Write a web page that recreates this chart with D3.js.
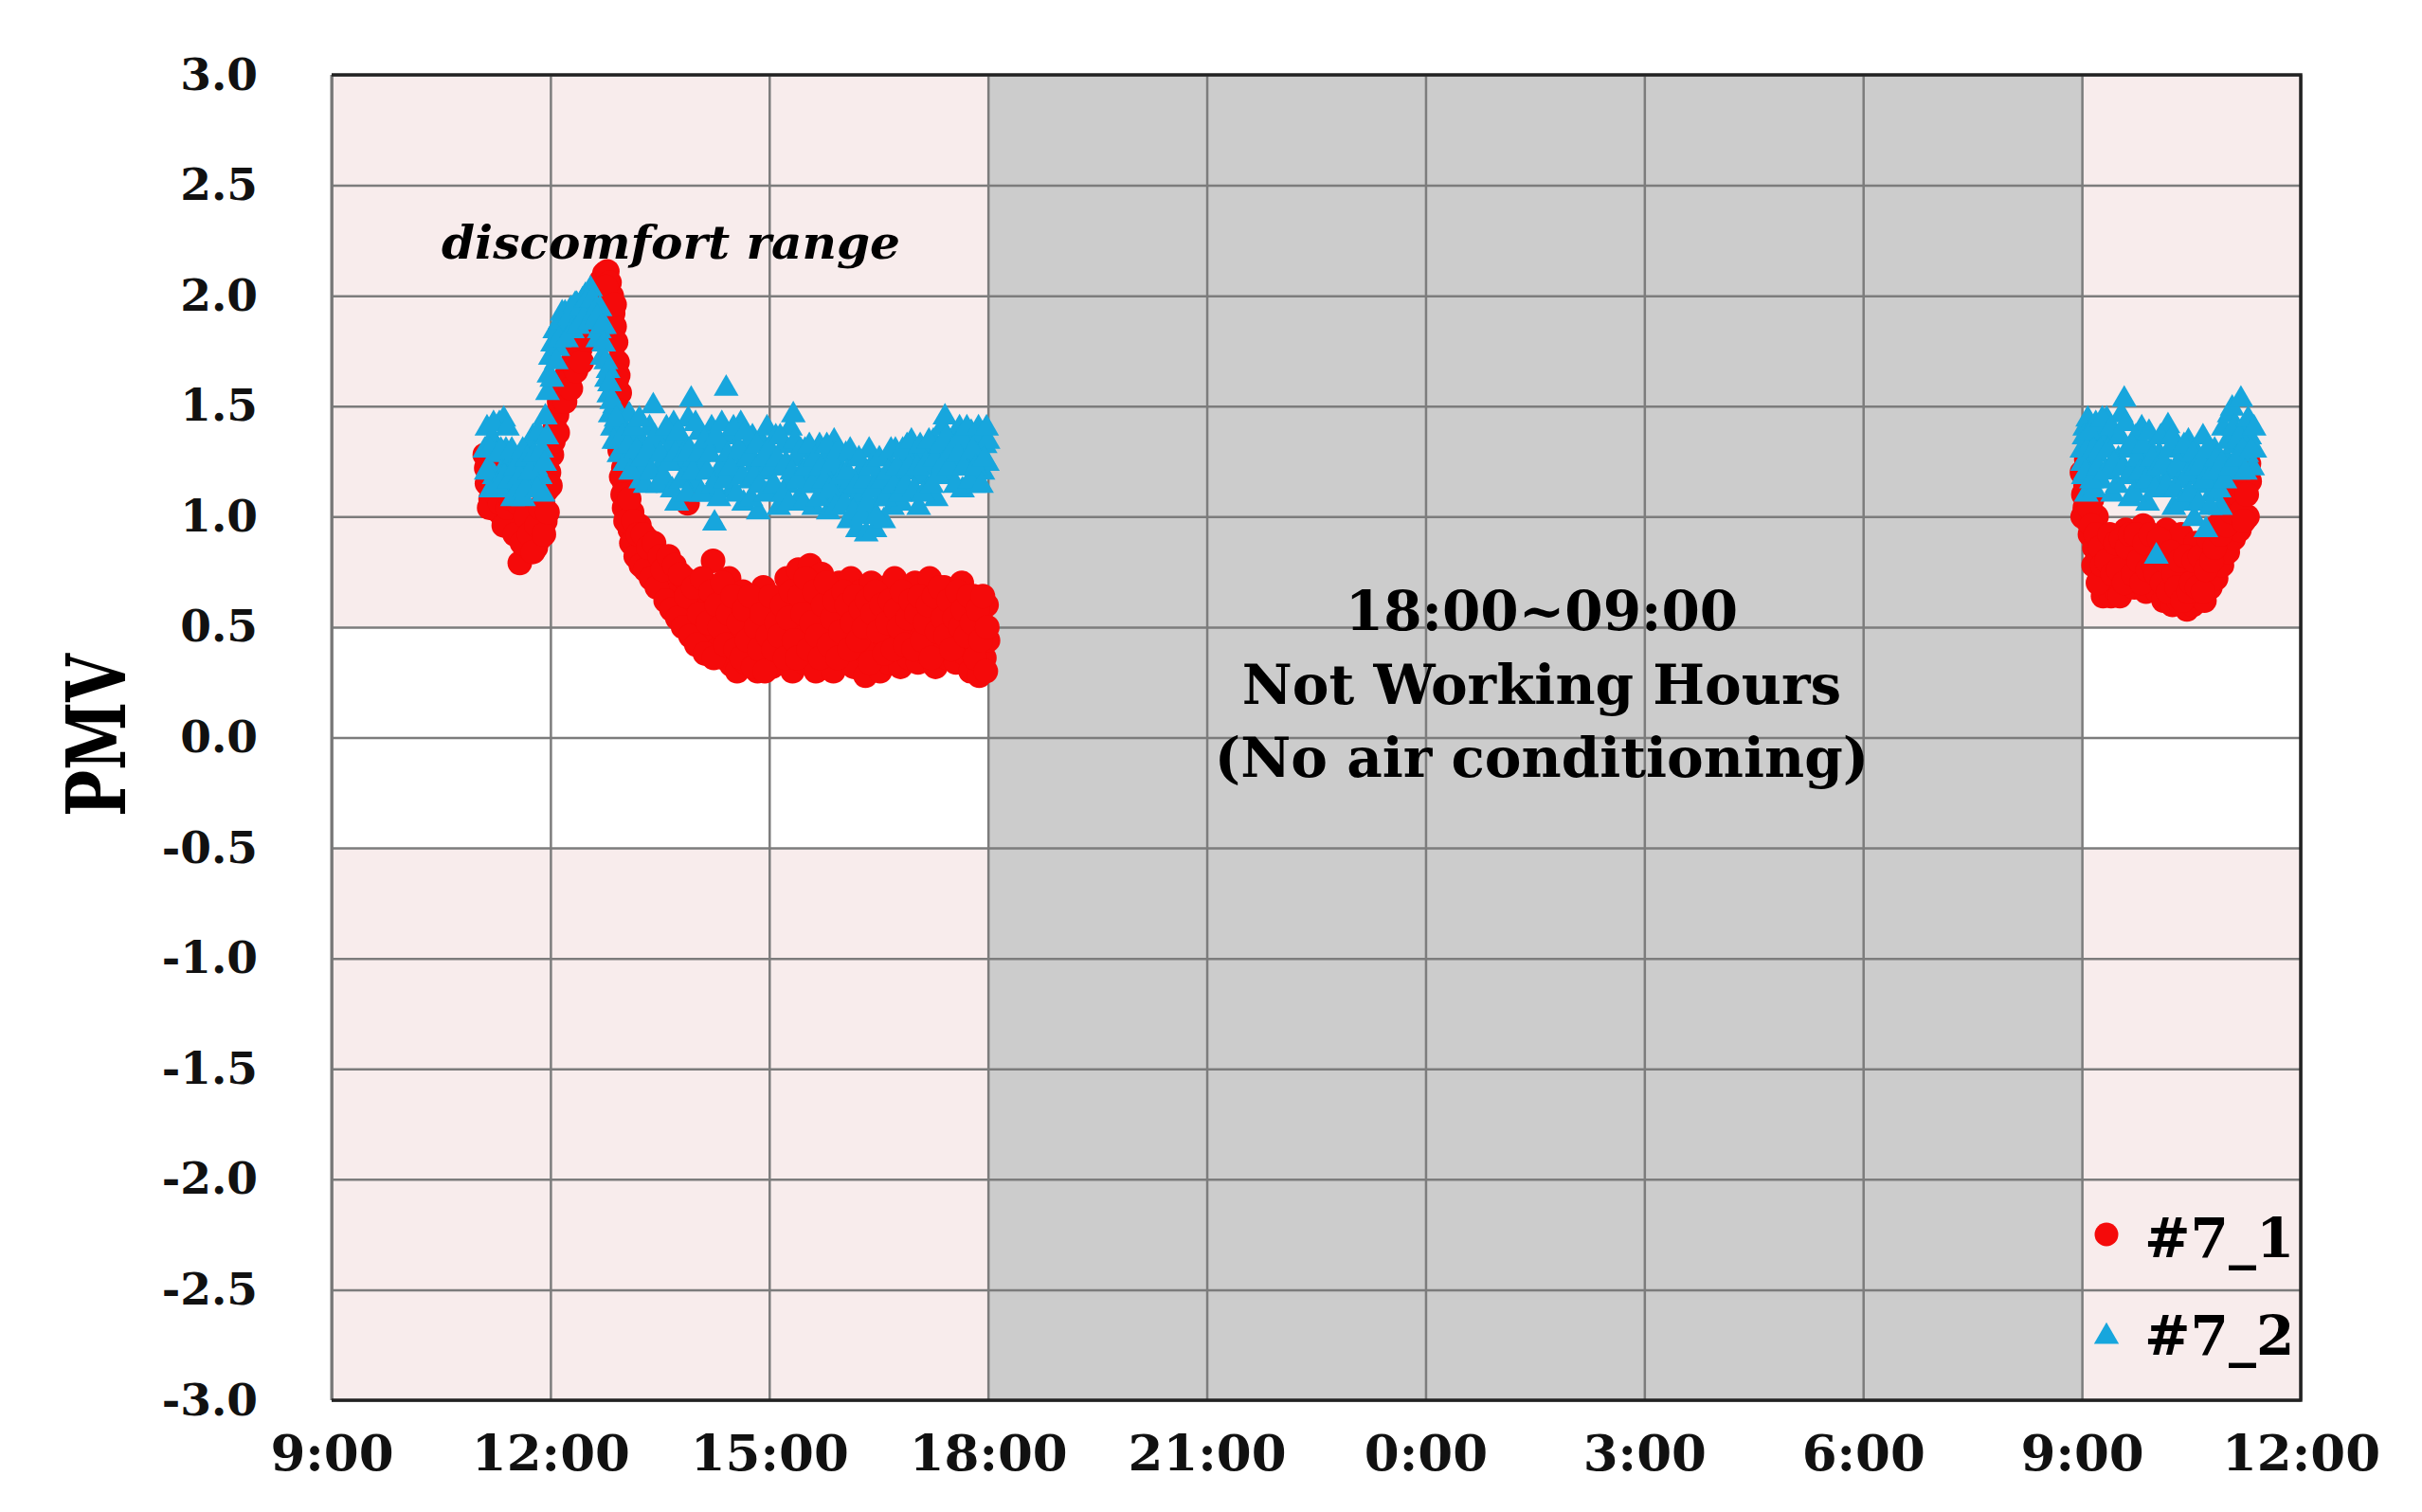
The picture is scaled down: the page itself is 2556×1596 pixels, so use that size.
<!DOCTYPE html>
<html>
<head>
<meta charset="utf-8">
<style>
body { margin: 0; background: #fff; }
.tick text { font-family: "DejaVu Serif", serif; font-weight: bold; fill: #111; }
.grid line { stroke: #7c7c7c; stroke-width: 2.5; }
.grid .domain { display: none; }
</style>
</head>
<body>
<svg width="2556" height="1596"></svg>
<script src="https://d3js.org/d3.v7.min.js"></script>
<script>

// time is hours from the start of day 1 (9 = 9:00, 24 = 0:00, 33 = 9:00 next day)
var xTicks = [9, 12, 15, 18, 21, 24, 27, 30, 33, 36];
var xLabels = ["9:00", "12:00", "15:00", "18:00", "21:00", "0:00", "3:00", "6:00", "9:00", "12:00"];
var yTicks = [3, 2.5, 2, 1.5, 1, 0.5, 0, -0.5, -1, -1.5, -2, -2.5, -3];
var yLabels = ["3.0", "2.5", "2.0", "1.5", "1.0", "0.5", "0.0", "-0.5", "-1.0", "-1.5", "-2.0", "-2.5", "-3.0"];

var seriesNames = ["#7_1", "#7_2"];
var comfortRange = [-0.5, 0.5];
var offHours = [18, 33];
var offText = ["18:00~09:00", "Not Working Hours", "(No air conditioning)"];

// #7_1 (red circles)
var pmv71 = [
  [11.10,1.28],[11.13,1.15],[11.15,1.22],[11.18,1.08],[11.20,1.30],[11.23,1.12],[11.25,1.05],[11.28,1.18],
  [11.30,1.02],[11.33,1.10],[11.35,1.00],[11.38,1.14],[11.40,0.98],[11.43,1.08],[11.45,1.02],[11.48,0.95],
  [11.50,1.10],[11.53,0.97],[11.55,1.00],[11.58,0.79],[11.60,0.94],[11.63,1.04],[11.65,0.90],[11.68,0.96],
  [11.70,0.86],[11.73,0.98],[11.75,0.88],[11.78,0.92],[11.80,0.86],[11.83,1.00],[11.85,0.90],[11.88,0.96],
  [11.90,1.06],[11.93,0.98],[11.95,1.12],[11.98,1.20],[12.00,1.14],[12.02,1.28],[12.04,1.34],[12.06,1.40],
  [12.09,1.46],[12.12,1.52],[12.15,1.56],[12.18,1.60],[12.22,1.64],[12.26,1.62],[12.30,1.70],[12.33,1.74],
  [12.37,1.78],[12.41,1.76],[12.45,1.84],[12.50,1.90],[12.55,1.95],[12.60,1.98],[12.65,2.03],[12.70,2.07],
  [12.74,2.10],[12.78,2.11],[12.81,2.06],[12.84,2.00],[12.86,1.92],[12.88,1.86],[12.90,1.79],[12.92,1.70],
  [12.93,1.64],[12.95,1.56],[12.96,1.48],[12.97,1.38],[12.98,1.30],[13.00,1.22],[13.02,1.14],[13.04,1.06],
  [13.06,1.00],[13.09,0.94],[13.12,1.02],[13.15,0.90],[13.18,0.86],[13.22,0.96],[13.25,0.84],[13.28,0.80],
  [13.32,0.90],[13.36,0.78],[13.40,0.84],[13.44,0.74],[13.48,0.80],[13.52,0.70],[13.56,0.66],[13.60,0.76],
  [13.64,0.64],[13.68,0.70],[13.72,0.60],[13.76,0.66],[13.80,0.56],[13.84,0.72],[13.88,1.06],[13.90,0.52],
  [13.94,0.62],[13.98,0.56],[14.02,0.50],[14.06,0.66],[14.10,0.46],[14.14,0.58],[14.18,0.44],[14.23,0.80],
  [14.26,0.52],[14.30,0.40],[14.34,0.62],[14.38,0.36],[14.42,0.48],[14.45,0.72],[14.48,0.33],[14.52,0.56],
  [14.56,0.30],[14.60,0.44],[14.64,0.66],[14.68,0.34],[14.72,0.52],[14.76,0.38],[14.80,0.60],[14.84,0.30],
  [14.88,0.46],[14.92,0.68],[14.96,0.36],[15.00,0.54],[15.04,0.32],[15.08,0.44],[15.12,0.62],[15.16,0.34],
  [15.20,0.50],[15.24,0.72],[15.28,0.40],[15.32,0.30],[15.36,0.58],[15.40,0.76],[15.44,0.46],[15.48,0.34],
  [15.52,0.62],[15.56,0.78],[15.60,0.42],[15.64,0.30],[15.68,0.56],[15.72,0.74],[15.76,0.38],[15.80,0.50],
  [15.84,0.66],[15.88,0.30],[15.92,0.44],[15.96,0.70],[16.00,0.58],[16.04,0.36],[16.08,0.48],[16.12,0.72],
  [16.16,0.32],[16.20,0.56],[16.24,0.66],[16.28,0.40],[16.32,0.28],[16.36,0.52],[16.40,0.70],[16.44,0.38],
  [16.48,0.60],[16.52,0.30],[16.56,0.46],[16.60,0.68],[16.64,0.34],[16.68,0.54],[16.72,0.72],[16.76,0.42],
  [16.80,0.32],[16.84,0.58],[16.88,0.66],[16.92,0.36],[16.96,0.48],[17.00,0.70],[17.04,0.34],[17.08,0.52],
  [17.12,0.64],[17.16,0.38],[17.20,0.72],[17.24,0.46],[17.28,0.32],[17.32,0.58],[17.36,0.40],[17.40,0.68],
  [17.44,0.36],[17.48,0.50],[17.52,0.62],[17.56,0.34],[17.60,0.44],[17.64,0.70],[17.68,0.38],[17.72,0.56],
  [17.76,0.30],[17.80,0.64],[17.84,0.42],[17.88,0.28],[17.92,0.52],[17.95,0.36],[17.98,0.60],[18.00,0.44],
  // in-between readings
  [11.12,1.22],[11.16,1.04],[11.21,1.16],[11.26,1.10],[11.31,1.06],[11.36,0.96],[11.41,1.04],[11.46,1.08],
  [11.51,0.92],[11.56,1.06],[11.61,0.88],[11.66,1.00],[11.71,0.92],[11.76,0.84],[11.81,0.96],[11.86,1.04],
  [11.91,0.92],[11.96,1.02],[12.10,1.38],[12.20,1.52],[12.28,1.58],[12.35,1.66],[12.43,1.70],[12.48,1.80],
  [12.53,1.86],[12.58,1.90],[12.63,1.96],[12.68,1.98],[12.76,2.04],[12.88,1.96],[12.91,1.62],[12.93,1.46],
  [12.95,1.30],[12.97,1.18],[12.99,1.10],[13.01,1.04],[13.03,0.98],[13.08,1.08],[13.11,0.88],[13.14,0.98],
  [13.17,0.82],[13.20,0.92],[13.24,0.78],[13.27,0.92],[13.30,0.76],[13.34,0.86],[13.38,0.72],[13.42,0.88],
  [13.46,0.68],[13.50,0.82],[13.54,0.76],[13.58,0.62],[13.62,0.82],[13.66,0.58],[13.70,0.78],[13.74,0.54],
  [13.78,0.74],[13.82,0.50],[13.86,0.64],[13.92,0.46],[13.96,0.68],[14.00,0.42],[14.04,0.56],[14.08,0.72],
  [14.12,0.38],[14.16,0.52],[14.20,0.66],[14.24,0.36],[14.28,0.60],[14.32,0.50],[14.36,0.70],[14.40,0.42],
  [14.44,0.56],[14.50,0.64],[14.54,0.40],[14.58,0.52],[14.62,0.36],[14.66,0.58],[14.70,0.44],[14.74,0.64],
  [14.78,0.32],[14.82,0.50],[14.86,0.40],[14.90,0.56],[14.94,0.30],[14.98,0.46],[15.02,0.64],[15.06,0.40],
  [15.10,0.52],[15.14,0.46],[15.18,0.60],[15.22,0.36],[15.26,0.54],[15.30,0.66],[15.34,0.44],[15.38,0.36],
  [15.42,0.64],[15.46,0.56],[15.50,0.72],[15.54,0.40],[15.58,0.52],[15.62,0.66],[15.66,0.46],[15.70,0.36],
  [15.74,0.60],[15.78,0.70],[15.82,0.42],[15.86,0.54],[15.90,0.62],[15.94,0.36],[15.98,0.48],[16.02,0.66],
  [16.06,0.60],[16.10,0.40],[16.14,0.52],[16.18,0.64],[16.22,0.44],[16.26,0.58],[16.30,0.50],[16.34,0.62],
  [16.38,0.34],[16.42,0.56],[16.46,0.66],[16.50,0.48],[16.54,0.60],[16.58,0.38],[16.62,0.52],[16.66,0.62],
  [16.70,0.40],[16.74,0.58],[16.78,0.50],[16.82,0.66],[16.86,0.42],[16.90,0.54],[16.94,0.62],[16.98,0.40],
  [17.02,0.56],[17.06,0.64],[17.10,0.44],[17.14,0.52],[17.18,0.60],[17.22,0.36],[17.26,0.64],[17.30,0.48],
  [17.34,0.68],[17.38,0.54],[17.42,0.46],[17.46,0.62],[17.50,0.40],[17.54,0.54],[17.58,0.66],[17.62,0.50],
  [17.66,0.58],[17.70,0.46],[17.74,0.64],[17.78,0.52],[17.82,0.36],[17.86,0.58],[17.90,0.44],[17.93,0.64],
  [17.97,0.30],[17.99,0.50],
  // next morning
  [33.00,1.20],[33.02,1.10],[33.04,1.04],[33.06,1.26],[33.08,0.98],[33.11,0.92],[33.14,1.08],[33.17,0.86],
  [33.20,1.00],[33.23,0.80],[33.26,0.74],[33.29,0.64],[33.32,0.90],[33.36,0.70],[33.40,0.64],[33.44,0.84],
  [33.48,0.66],[33.52,0.64],[33.56,0.78],[33.60,0.94],[33.64,0.72],[33.68,0.80],[33.72,0.68],[33.76,0.86],
  [33.80,0.74],[33.84,0.96],[33.88,0.66],[33.92,0.82],[33.96,0.70],[34.00,0.88],[34.04,0.66],[34.08,0.78],
  [34.12,0.62],[34.16,0.94],[34.20,0.70],[34.24,0.60],[34.28,0.84],[34.32,0.62],[34.36,0.92],[34.40,0.68],
  [34.44,0.58],[34.48,0.76],[34.52,0.60],[34.56,0.88],[34.60,0.64],[34.64,0.74],[34.68,0.62],[34.72,0.82],
  [34.76,0.68],[34.80,0.94],[34.84,0.72],[34.88,0.86],[34.92,0.78],[34.96,0.90],[35.00,0.84],[35.04,0.96],
  [35.08,0.90],[35.12,1.04],[35.16,0.94],[35.20,1.12],[35.24,1.24],[35.27,1.00],[35.30,1.16],
  [33.01,1.00],[33.05,1.14],[33.10,1.04],[33.13,0.96],[33.16,0.78],[33.19,0.92],[33.22,0.70],[33.25,0.86],
  [33.28,0.78],[33.34,0.80],[33.38,0.92],[33.42,0.74],[33.46,0.88],[33.50,0.76],[33.54,0.90],[33.58,0.70],
  [33.62,0.86],[33.66,0.92],[33.70,0.74],[33.74,0.92],[33.78,0.80],[33.82,0.70],[33.86,0.88],[33.90,0.76],
  [33.94,0.92],[33.98,0.78],[34.02,0.74],[34.06,0.90],[34.10,0.70],[34.14,0.80],[34.18,0.66],[34.22,0.84],
  [34.26,0.74],[34.30,0.68],[34.34,0.80],[34.38,0.62],[34.42,0.82],[34.46,0.66],[34.50,0.70],[34.54,0.80],
  [34.58,0.68],[34.62,0.82],[34.66,0.66],[34.70,0.76],[34.74,0.90],[34.78,0.80],[34.82,0.86],[34.86,0.96],
  [34.90,0.92],[34.94,1.00],[34.98,0.96],[35.02,1.08],[35.06,1.02],[35.10,1.14],[35.14,1.10],[35.18,1.02],
  [35.22,0.98],[35.26,1.10],[35.29,1.24]
];

// #7_2 (blue triangles)
var pmv72 = [
  [11.10,1.30],[11.13,1.40],[11.15,1.22],[11.18,1.12],[11.20,1.35],[11.23,1.18],[11.26,1.28],[11.30,1.42],
  [11.33,1.20],[11.36,1.44],[11.39,1.30],[11.42,1.12],[11.45,1.24],[11.48,1.08],[11.50,1.18],[11.53,1.10],
  [11.56,1.26],[11.60,1.14],[11.63,1.08],[11.66,1.20],[11.70,1.30],[11.73,1.14],[11.76,1.36],[11.80,1.22],
  [11.83,1.38],[11.86,1.18],[11.90,1.10],[11.93,1.45],[11.96,1.56],[11.98,1.64],[12.00,1.72],[12.03,1.78],
  [12.06,1.84],[12.10,1.76],[12.13,1.88],[12.17,1.82],[12.20,1.92],[12.24,1.86],[12.28,1.94],[12.32,1.90],
  [12.36,1.96],[12.40,1.92],[12.44,1.98],[12.48,2.00],[12.52,1.94],[12.55,2.03],[12.58,1.96],[12.62,1.88],
  [12.65,1.80],[12.68,1.94],[12.71,1.72],[12.74,1.86],[12.77,1.62],[12.80,1.55],[12.82,1.46],[12.85,1.40],
  [12.88,1.50],[12.92,1.34],[12.96,1.42],[13.00,1.30],[13.04,1.38],[13.08,1.46],[13.12,1.28],[13.16,1.36],
  [13.20,1.22],[13.24,1.16],[13.28,1.32],[13.32,1.24],[13.36,1.40],[13.41,1.50],[13.45,1.30],[13.49,1.20],
  [13.53,1.36],[13.57,1.26],[13.61,1.14],[13.65,1.32],[13.69,1.42],[13.73,1.06],[13.77,1.24],[13.81,1.34],
  [13.85,1.18],[13.89,1.44],[13.93,1.53],[13.97,1.26],[14.01,1.14],[14.05,1.38],[14.09,1.22],[14.13,1.30],
  [14.17,1.10],[14.21,1.40],[14.25,0.97],[14.29,1.18],[14.33,1.32],[14.37,1.24],[14.41,1.58],[14.45,1.36],
  [14.49,1.12],[14.53,1.28],[14.57,1.20],[14.61,1.42],[14.65,1.06],[14.69,1.30],[14.73,1.16],[14.77,1.36],
  [14.81,1.24],[14.85,1.02],[14.89,1.34],[14.93,1.20],[14.97,1.40],[15.01,1.12],[15.05,1.28],[15.09,1.36],
  [15.13,1.04],[15.17,1.22],[15.21,1.32],[15.25,1.14],[15.29,1.40],[15.33,1.46],[15.37,1.26],[15.41,1.08],
  [15.45,1.20],[15.49,1.30],[15.53,1.14],[15.57,1.24],[15.61,1.04],[15.65,1.18],[15.69,1.32],[15.73,1.10],
  [15.77,1.26],[15.81,1.02],[15.85,1.16],[15.89,1.34],[15.93,1.08],[15.97,1.22],[16.01,1.12],[16.05,1.28],
  [16.09,0.98],[16.13,1.16],[16.17,1.06],[16.21,0.94],[16.25,1.20],[16.29,1.10],[16.33,0.92],[16.37,1.30],
  [16.41,1.02],[16.45,0.94],[16.49,1.18],[16.53,1.08],[16.57,0.98],[16.61,1.26],[16.65,1.12],[16.69,1.04],
  [16.73,1.30],[16.77,1.16],[16.81,1.06],[16.85,1.24],[16.89,1.32],[16.93,1.10],[16.97,1.20],[17.01,1.28],
  [17.05,1.04],[17.09,1.18],[17.13,1.30],[17.17,1.12],[17.21,1.22],[17.25,1.34],[17.29,1.08],[17.33,1.26],
  [17.37,1.40],[17.41,1.45],[17.45,1.30],[17.49,1.18],[17.53,1.36],[17.57,1.24],[17.61,1.40],[17.65,1.12],
  [17.69,1.32],[17.73,1.22],[17.77,1.38],[17.81,1.14],[17.85,1.28],[17.89,1.36],[17.93,1.20],[17.96,1.32],
  [17.99,1.24],[18.00,1.34],
  // in-between readings
  [11.12,1.20],[11.17,1.30],[11.22,1.42],[11.27,1.14],[11.32,1.30],[11.37,1.18],[11.41,1.40],[11.44,1.16],
  [11.47,1.30],[11.52,1.22],[11.55,1.12],[11.58,1.18],[11.62,1.30],[11.65,1.12],[11.68,1.26],[11.72,1.20],
  [11.78,1.28],[11.82,1.12],[11.88,1.30],[11.92,1.24],[11.95,1.36],[12.02,1.62],[12.08,1.70],[12.12,1.80],
  [12.16,1.92],[12.22,1.80],[12.26,1.90],[12.30,1.84],[12.34,1.96],[12.38,1.86],[12.42,1.94],[12.46,1.90],
  [12.50,1.98],[12.54,1.88],[12.57,1.98],[12.60,1.92],[12.64,1.90],[12.67,1.84],[12.70,1.86],[12.73,1.78],
  [12.76,1.70],[12.79,1.66],[12.81,1.60],[12.84,1.52],[12.87,1.34],[12.90,1.44],[12.94,1.28],[12.98,1.36],
  [13.02,1.24],[13.06,1.32],[13.10,1.20],[13.14,1.40],[13.18,1.30],[13.22,1.44],[13.26,1.26],[13.30,1.14],
  [13.34,1.30],[13.38,1.20],[13.43,1.36],[13.47,1.14],[13.51,1.28],[13.55,1.18],[13.59,1.40],[13.63,1.24],
  [13.67,1.12],[13.71,1.28],[13.75,1.38],[13.79,1.16],[13.83,1.28],[13.87,1.10],[13.91,1.30],[13.95,1.20],
  [13.99,1.42],[14.03,1.28],[14.07,1.10],[14.11,1.34],[14.15,1.20],[14.19,1.28],[14.23,1.14],[14.27,1.36],
  [14.31,1.08],[14.35,1.42],[14.39,1.16],[14.43,1.28],[14.47,1.22],[14.51,1.40],[14.55,1.10],[14.59,1.30],
  [14.63,1.18],[14.67,1.38],[14.71,1.26],[14.75,1.08],[14.79,1.18],[14.83,1.32],[14.87,1.14],[14.91,1.26],
  [14.95,1.10],[14.99,1.30],[15.03,1.22],[15.07,1.14],[15.11,1.26],[15.15,1.36],[15.19,1.10],[15.23,1.24],
  [15.27,1.06],[15.31,1.20],[15.35,1.34],[15.39,1.16],[15.43,1.30],[15.47,1.06],[15.51,1.22],[15.55,1.32],
  [15.59,1.14],[15.63,1.26],[15.67,1.08],[15.71,1.22],[15.75,1.16],[15.79,1.32],[15.83,1.12],[15.87,1.24],
  [15.91,1.04],[15.95,1.30],[15.99,1.18],[16.03,1.06],[16.07,1.20],[16.11,1.30],[16.15,1.02],[16.19,1.14],
  [16.23,1.26],[16.27,1.00],[16.31,1.16],[16.35,1.06],[16.39,1.22],[16.43,1.12],[16.47,1.00],[16.51,1.26],
  [16.55,1.16],[16.59,1.08],[16.63,1.20],[16.67,1.30],[16.71,1.14],[16.75,1.22],[16.79,1.10],[16.83,1.30],
  [16.87,1.14],[16.91,1.22],[16.95,1.34],[16.99,1.12],[17.03,1.22],[17.07,1.32],[17.11,1.10],[17.15,1.24],
  [17.19,1.34],[17.23,1.14],[17.27,1.26],[17.31,1.18],[17.35,1.32],[17.39,1.24],[17.43,1.36],[17.47,1.22],
  [17.51,1.30],[17.55,1.14],[17.59,1.28],[17.63,1.36],[17.67,1.22],[17.71,1.40],[17.75,1.16],[17.79,1.30],
  [17.83,1.22],[17.87,1.40],[17.91,1.14],[17.95,1.26],[17.98,1.40],
  // next morning
  [33.00,1.30],[33.02,1.18],[33.04,1.40],[33.06,1.10],[33.08,1.44],[33.11,1.24],[33.14,1.34],[33.17,1.12],
  [33.20,1.28],[33.23,1.38],[33.26,1.16],[33.30,1.32],[33.34,1.44],[33.38,1.22],[33.42,1.10],[33.46,1.36],
  [33.50,1.26],[33.54,1.46],[33.58,1.53],[33.62,1.30],[33.66,1.08],[33.70,1.20],[33.74,1.36],[33.78,1.14],
  [33.82,1.40],[33.86,1.24],[33.90,1.06],[33.94,1.30],[33.98,1.18],[34.02,0.82],[34.06,1.28],[34.10,1.12],
  [34.14,1.38],[34.18,1.41],[34.22,1.20],[34.26,1.04],[34.30,1.30],[34.34,1.16],[34.38,1.26],[34.42,1.08],
  [34.46,1.34],[34.50,1.20],[34.54,0.99],[34.58,1.28],[34.62,1.14],[34.66,1.36],[34.70,0.94],[34.74,1.22],
  [34.78,1.10],[34.82,1.30],[34.86,1.18],[34.90,1.04],[34.94,1.40],[34.98,1.26],[35.02,1.46],[35.06,1.49],
  [35.10,1.32],[35.14,1.20],[35.18,1.53],[35.22,1.40],[35.26,1.28],[35.30,1.36],[35.34,1.22],[35.37,1.30],
  [33.01,1.24],[33.03,1.36],[33.05,1.20],[33.07,1.30],[33.10,1.38],[33.13,1.16],[33.16,1.30],[33.19,1.42],
  [33.22,1.22],[33.25,1.30],[33.28,1.44],[33.32,1.20],[33.36,1.30],[33.40,1.40],[33.44,1.24],[33.48,1.14],
  [33.52,1.36],[33.56,1.22],[33.60,1.42],[33.64,1.18],[33.68,1.32],[33.72,1.10],[33.76,1.26],[33.80,1.20],
  [33.84,1.32],[33.88,1.16],[33.92,1.38],[33.96,1.26],[34.00,1.12],[34.04,1.22],[34.08,1.36],[34.12,1.24],
  [34.16,1.14],[34.20,1.30],[34.24,1.36],[34.28,1.12],[34.32,1.24],[34.36,1.06],[34.40,1.32],[34.44,1.18],
  [34.48,1.10],[34.52,1.28],[34.56,1.22],[34.60,1.06],[34.64,1.24],[34.68,1.16],[34.72,1.30],[34.76,1.04],
  [34.80,1.20],[34.84,1.26],[34.88,1.12],[34.92,1.24],[34.96,1.16],[35.00,1.34],[35.04,1.22],[35.08,1.40],
  [35.12,1.26],[35.16,1.36],[35.20,1.30],[35.24,1.20],[35.28,1.44],[35.32,1.30],[35.36,1.40]
];

var svg = d3.select("svg"),
    margin = {top: 79, right: 128, bottom: 118, left: 350},
    width = +svg.attr("width") - margin.left - margin.right,
    height = +svg.attr("height") - margin.top - margin.bottom;

var g = svg.append("g").attr("transform", "translate(" + margin.left + "," + margin.top + ")");

var x = d3.scaleLinear().domain([9, 36]).range([0, width]);
var y = d3.scaleLinear().domain([-3, 3]).range([height, 0]);

var red = "#f50a0a", blue = "#17a6dd";

// backgrounds: pink = discomfort, white = comfort band, grey = no air conditioning
g.append("rect").attr("width", width).attr("height", height).attr("fill", "#f8ecec");
g.append("rect")
  .attr("y", y(comfortRange[1]))
  .attr("width", width)
  .attr("height", y(comfortRange[0]) - y(comfortRange[1]))
  .attr("fill", "#fff");
g.append("rect")
  .attr("x", x(offHours[0]))
  .attr("width", x(offHours[1]) - x(offHours[0]))
  .attr("height", height)
  .attr("fill", "#cccccc");

// grid
g.append("g").attr("class", "grid")
  .call(d3.axisBottom(x).tickValues(xTicks).tickSize(height).tickFormat(""));
g.append("g").attr("class", "grid")
  .call(d3.axisLeft(y).tickValues(yTicks).tickSize(-width).tickFormat(""));

// markers, red underneath
g.append("g").selectAll("circle")
  .data(pmv71)
  .enter().append("circle")
    .attr("cx", function(d) { return x(d[0]); })
    .attr("cy", function(d) { return y(d[1]); })
    .attr("r", 13)
    .attr("fill", red);

var tri = d3.symbol().type(d3.symbolTriangle).size(300);
g.append("g").selectAll("path")
  .data(pmv72)
  .enter().append("path")
    .attr("d", tri)
    .attr("transform", function(d) { return "translate(" + x(d[0]) + "," + y(d[1]) + ")"; })
    .attr("fill", blue);

// plot border
g.append("line").attr("x1", 0).attr("x2", 0).attr("y1", 0).attr("y2", height)
  .attr("stroke", "#777").attr("stroke-width", 3);
g.append("path")
  .attr("d", "M0,0H" + width + "V" + height + "H0")
  .attr("fill", "none").attr("stroke", "#222").attr("stroke-width", 3.5);

// axes
var xAxis = g.append("g")
  .attr("transform", "translate(0," + height + ")")
  .call(d3.axisBottom(x).tickValues(xTicks).tickSize(0).tickPadding(36)
    .tickFormat(function(d, i) { return xLabels[i]; }));
xAxis.select(".domain").remove();
xAxis.selectAll("text").style("font-size", "53px");

var yAxis = g.append("g")
  .call(d3.axisLeft(y).tickValues(yTicks).tickSize(0).tickPadding(78)
    .tickFormat(function(d, i) { return yLabels[i]; }));
yAxis.select(".domain").remove();
yAxis.selectAll("text").style("font-size", "47px");

svg.append("text")
  .attr("transform", "translate(132,776) rotate(-90)")
  .attr("text-anchor", "middle")
  .attr("textLength", 172)
  .attr("lengthAdjust", "spacingAndGlyphs")
  .style("font-family", "DejaVu Serif, serif")
  .style("font-weight", "bold")
  .style("font-size", "86px")
  .text("PMV");

// annotations
svg.append("text")
  .attr("x", 466).attr("y", 273)
  .attr("textLength", 484)
  .attr("lengthAdjust", "spacingAndGlyphs")
  .style("font-family", "DejaVu Serif, serif")
  .style("font-weight", "bold")
  .style("font-style", "italic")
  .style("font-size", "48px")
  .text("discomfort range");

svg.append("g").selectAll("text")
  .data(offText)
  .enter().append("text")
    .attr("x", 1627)
    .attr("y", function(d, i) { return 665 + i * 77.5; })
    .attr("text-anchor", "middle")
    .style("font-family", "DejaVu Serif, serif")
    .style("font-weight", "bold")
    .style("font-size", "58px")
    .text(function(d) { return d; });

// legend
var legend = svg.append("g").attr("transform", "translate(2223,1303)");
legend.append("circle").attr("r", 12.5).attr("fill", red);
legend.append("path").attr("d", tri).attr("transform", "translate(0,108)").attr("fill", blue);
legend.selectAll("text")
  .data(seriesNames)
  .enter().append("text")
    .attr("x", 40)
    .attr("y", function(d, i) { return 24 + i * 103; })
    .style("font-family", "DejaVu Serif, serif")
    .style("font-weight", "bold")
    .style("font-size", "58px")
    .text(function(d) { return d; });

</script>
</body>
</html>
